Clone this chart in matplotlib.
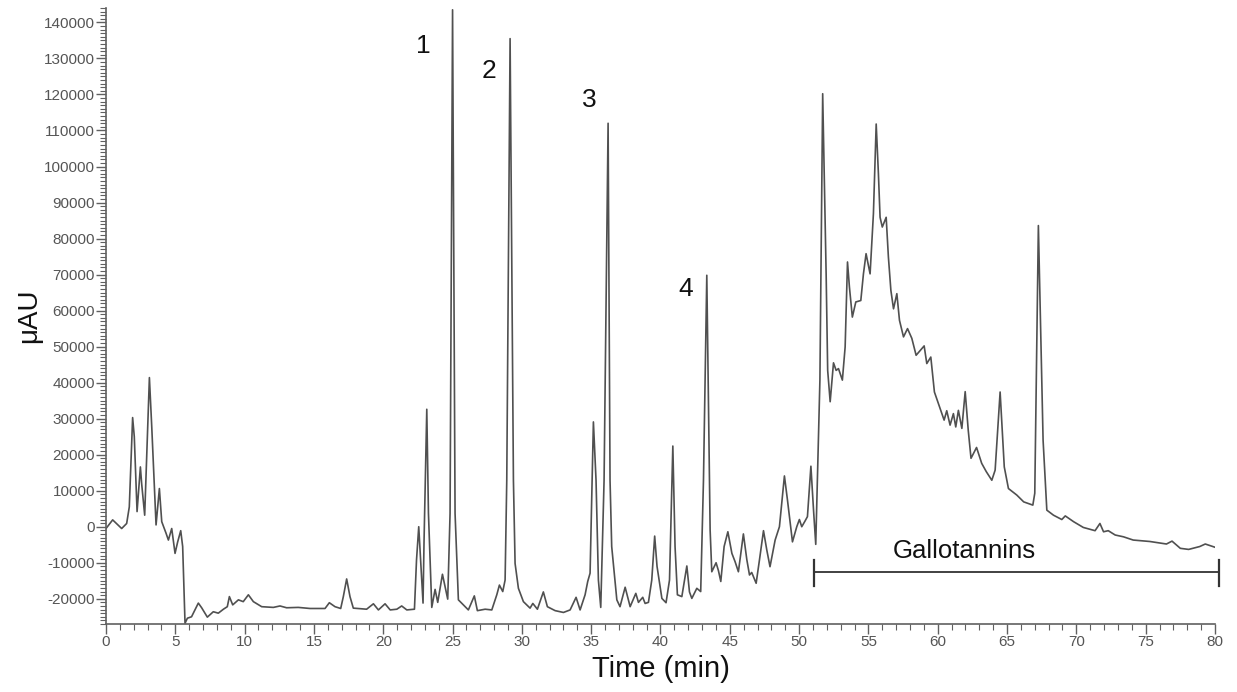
import matplotlib
matplotlib.use("Agg")
import matplotlib.pyplot as plt
from matplotlib.ticker import MultipleLocator

plt.rcParams['font.family'] = ['Liberation Sans', 'DejaVu Sans']
plt.rcParams['axes.unicode_minus'] = False

# retention time (min) and detector response (uAU)
time_min = [
    0.00, 0.48, 1.13, 1.49, 1.68, 1.92, 2.04, 2.24, 2.48, 2.57, 2.79, 3.13, 3.30, 3.61,
    3.85, 4.02, 4.33, 4.50, 4.74, 4.98, 5.17, 5.39, 5.53, 5.70, 5.87, 6.17, 6.66, 6.90,
    7.31, 7.74, 8.10, 8.47, 8.75, 8.90, 9.14, 9.55, 9.90, 10.27, 10.63, 11.23, 12.07,
    12.55, 13.03, 13.87, 14.72, 15.80, 16.11, 16.52, 16.93, 17.12, 17.36, 17.60, 17.84,
    18.80, 19.29, 19.65, 20.13, 20.50, 20.98, 21.33, 21.70, 22.25, 22.40, 22.56, 22.87,
    22.94, 23.14, 23.26, 23.50, 23.74, 23.93, 24.27, 24.65, 24.82, 25.00, 25.18, 25.42,
    26.14, 26.57, 26.79, 27.35, 27.83, 28.19, 28.38, 28.62, 28.79, 28.91, 29.15, 29.39,
    29.51, 29.75, 30.11, 30.59, 30.79, 31.12, 31.55, 31.84, 32.40, 33.00, 33.48, 33.91,
    34.20, 34.56, 34.75, 34.92, 35.16, 35.35, 35.52, 35.69, 35.93, 36.22, 36.36, 36.48,
    36.85, 37.08, 37.45, 37.81, 38.22, 38.41, 38.72, 38.89, 39.13, 39.37, 39.58, 39.75,
    40.10, 40.40, 40.65, 40.89, 41.05, 41.22, 41.54, 41.90, 42.09, 42.26, 42.62, 42.90,
    43.10, 43.34, 43.53, 43.58, 43.70, 44.01, 44.18, 44.35, 44.59, 44.86, 45.15, 45.38,
    45.62, 45.98, 46.23, 46.42, 46.58, 46.90, 47.14, 47.43, 47.67, 47.90, 48.27, 48.58,
    48.94, 49.16, 49.52, 49.83, 50.02, 50.19, 50.43, 50.60, 50.85, 51.04, 51.20, 51.39,
    51.50, 51.70, 51.95, 52.06, 52.24, 52.48, 52.67, 52.84, 53.12, 53.32, 53.49, 53.63,
    53.84, 54.09, 54.45, 54.64, 54.83, 55.12, 55.36, 55.56, 55.72, 55.84, 56.00, 56.28,
    56.44, 56.62, 56.81, 57.05, 57.24, 57.53, 57.82, 58.13, 58.44, 59.02, 59.21, 59.50,
    59.76, 60.05, 60.30, 60.46, 60.65, 60.89, 61.13, 61.30, 61.49, 61.74, 61.98, 62.20,
    62.40, 62.80, 63.17, 63.50, 63.90, 64.14, 64.50, 64.80, 65.10, 65.70, 66.20, 66.86,
    67.00, 67.26, 67.60, 67.87, 68.35, 68.95, 69.20, 69.80, 70.50, 71.35, 71.70, 71.96,
    72.30, 72.80, 73.40, 74.10, 75.30, 76.50, 76.90, 77.50, 78.10, 78.90, 79.30, 80.00,
]
signal_uau = [
    -500, 1900, -500, 900, 5500, 30300, 25000, 4200, 16600, 12000, 3200, 41400, 27700, 500,
    10600, 1400, -1800, -3700, -500, -7400, -4200, -1100, -5500, -26800, -25400, -25000, -21200, -22500,
    -25100, -23600, -24000, -22900, -22200, -19400, -21700, -20300, -20800, -18900, -20800, -22200, -22400,
    -22000, -22500, -22400, -22700, -22700, -21100, -22200, -22700, -19400, -14500, -19400, -22600,
    -22900, -21400, -23100, -21400, -23100, -22900, -22000, -23100, -22900, -9200, 0, -21200,
    -4500, 32600, 3800, -22400, -17400, -21000, -13200, -20100, 3700, 143500, 3700, -20300,
    -23100, -19200, -23300, -22900, -23100, -18900, -16200, -18000, -14800, 12900, 135500, 12900,
    -10200, -17100, -20800, -22600, -21300, -22900, -18100, -22200, -23300, -23800, -23100, -19600,
    -23100, -18900, -15200, -12900, 29100, 12900, -14800, -22400, 12900, 112000, 12900, -5500,
    -20300, -22200, -16800, -22200, -18500, -21000, -19600, -21300, -21000, -14800, -2600, -11000,
    -19900, -21100, -14800, 22400, -5500, -18900, -19400, -10900, -18100, -19900, -17100, -18000,
    12900, 69800, 12900, -900, -12500, -10000, -12200, -15200, -5500, -1400, -7400, -9700,
    -12500, -2000, -9200, -13400, -12700, -15700, -9200, -1100, -6500, -11100, -3700, 0,
    14100, 7400, -4200, 0, 2000, 0, 1600, 2800, 16800, 4600, -4900, 24000,
    40700, 120200, 70000, 43400, 34700, 45500, 43400, 43900, 40700, 49900, 73500, 66500,
    58200, 62400, 62800, 70200, 75800, 70200, 86900, 111800, 98000, 85900, 83200, 85900,
    74900, 65600, 60500, 64700, 57300, 52700, 55000, 52300, 47600, 50200, 45300, 47100,
    37400, 34200, 31400, 29600, 32200, 28200, 31400, 27700, 32300, 27300, 37500, 26800,
    19000, 22000, 17600, 15300, 12900, 15700, 37400, 16600, 10600, 8800, 6900, 6000,
    9300, 83600, 24000, 4600, 3200, 2000, 3000, 1400, -200, -1100, 900, -1400,
    -1100, -2300, -2800, -3700, -4100, -4800, -4000, -6000, -6300, -5500, -4800, -5700,
]

peak_labels = ["1", "2", "3", "4"]
peak_label_x = [22.9, 27.6, 34.85, 41.85]
peak_label_y = [133500, 126400, 118600, 66100]

bracket_start, bracket_end = 51.08, 80.3
bracket_level = -12600

fig = plt.figure(figsize=(12.37, 6.92), dpi=100)
ax = fig.add_axes([0.0857, 0.0983, 0.8965, 0.8901])

ax.plot(time_min, signal_uau, color="#505050", linewidth=1.2)

ax.set_xlim(0, 80)
ax.set_ylim(-27000, 144000)

ax.xaxis.set_major_locator(MultipleLocator(5))
ax.xaxis.set_minor_locator(MultipleLocator(1))
ax.yaxis.set_major_locator(MultipleLocator(10000))
ax.yaxis.set_minor_locator(MultipleLocator(1000))
ax.set_yticks([v for v in range(-20000, 140001, 10000)])

for side in ["top", "right"]:
    ax.spines[side].set_visible(False)
for side in ["left", "bottom"]:
    ax.spines[side].set_color("#606060")
    ax.spines[side].set_linewidth(1.2)

ax.tick_params(axis="both", which="major", colors="#606060", labelcolor="#555555",
               labelsize=11, length=7, width=1, pad=1)
ax.tick_params(axis="both", which="minor", colors="#606060", length=4, width=0.8)

ax.set_xlabel("Time (min)", fontsize=21, color="#111111", labelpad=4)
ax.set_ylabel("\u03bcAU", fontsize=20, color="#111111", labelpad=1)

for lab, x, y in zip(peak_labels, peak_label_x, peak_label_y):
    ax.text(x, y, lab, fontsize=19, ha="center", va="center", color="#111111")

# gallotannin elution window
ax.plot([bracket_start, bracket_end], [bracket_level, bracket_level],
        color="#333333", linewidth=1.3, clip_on=False)
for x in (bracket_start, bracket_end):
    ax.plot([x, x], [bracket_level - 3800, bracket_level + 3400],
            color="#333333", linewidth=1.6, clip_on=False)
ax.text(61.9, -6700, "Gallotannins", fontsize=18.5, ha="center", va="center",
        color="#111111")

fig.savefig("out.png", dpi=100)
